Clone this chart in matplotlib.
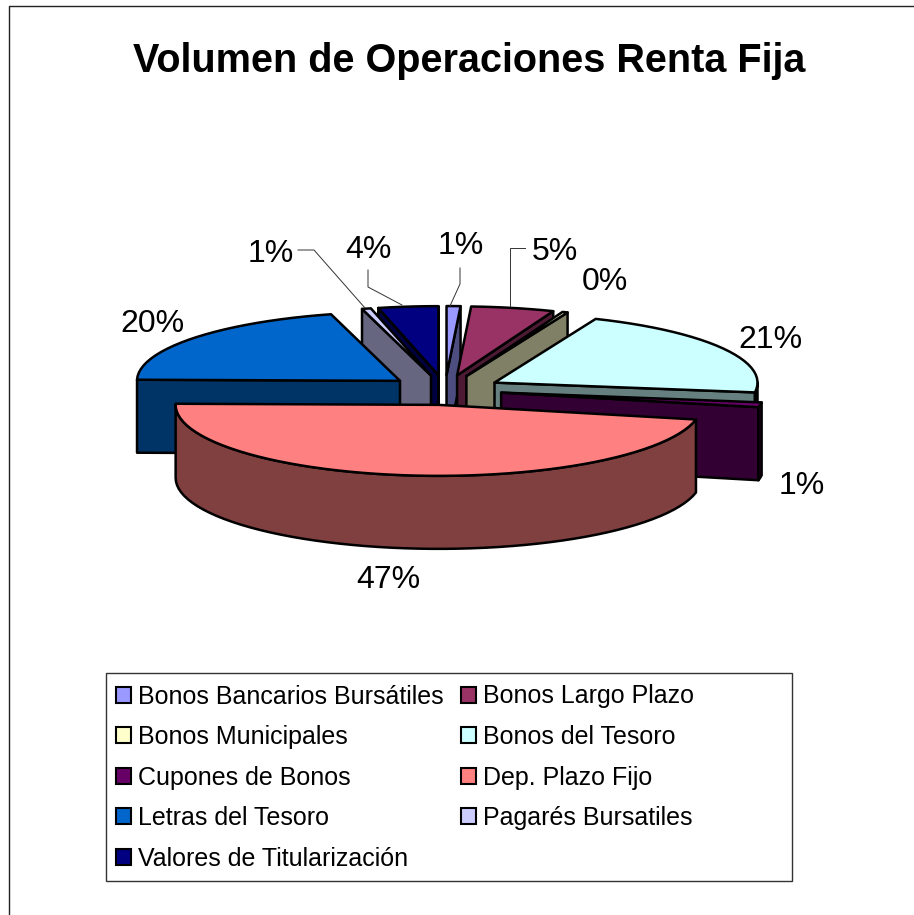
import numpy as np
import matplotlib
matplotlib.use("Agg")
import matplotlib.pyplot as plt
from matplotlib.patches import Patch, Polygon, Rectangle

plt.rcParams["font.family"] = ["Liberation Sans", "DejaVu Sans"]

# data (share of total, %)
categories = ["Bonos Bancarios Bursátiles", "Bonos Largo Plazo", "Bonos Municipales",
              "Bonos del Tesoro", "Cupones de Bonos", "Dep. Plazo Fijo",
              "Letras del Tesoro", "Pagarés Bursatiles", "Valores de Titularización"]
values = [0.85, 5.1, 0.33, 20.9, 1.1, 46.9, 20.5, 0.55, 3.67]
pct_labels = ["1%", "5%", "0%", "21%", "1%", "47%", "20%", "1%", "4%"]
colors = ["#9999FF", "#993366", "#FFFFCC", "#CCFFFF", "#660066",
          "#FF8080", "#0066CC", "#CCCCFF", "#000080"]

# layout, all in image pixels
CX, CY = 445, 390
RX, RY = 263, 69
RY_FRONT = 71  # near half of the ellipse looks a bit deeper
EXPLODE = 57
DEPTH = 73
label_xy = [(461, 246.5), (555, 251.5), (605, 281.5), (770, 340.5), (802, 485.5),
            (388, 580.5), (152, 323.5), (271, 253.5), (368, 249.5)]
leaders = [[(460, 268), (460, 284), (450, 306)],
           [(525, 248), (510, 248), (510, 306)],
           None, None, None, None, None,
           [(298, 250), (314, 250), (365, 308)],
           [(368, 270), (368, 287), (402, 305)]]


def shade(hex_color):
    return tuple(c / 2 for c in matplotlib.colors.to_rgb(hex_color))


def arc_pts(x0, y0, a1, a2, dy=0.0):
    # angles in degrees, clockwise from 12 o'clock
    n = max(2, int(abs(a2 - a1) / 3) + 2)
    t = np.radians(np.linspace(a1, a2, n))
    ry = np.where(np.cos(t) < 0, RY_FRONT, RY)
    return np.column_stack([x0 + RX * np.sin(t), y0 - ry * np.cos(t) + dy])


fig = plt.figure(figsize=(9.14, 9.15), dpi=100)
ax = fig.add_axes([0, 0, 1, 1])
ax.set_xlim(0, 914)
ax.set_ylim(915, 0)
ax.axis("off")

# outer chart frame, cropped at the right and bottom of the picture
ax.plot([9, 9, 914], [915, 6, 6], color="#222222", lw=1.0, zorder=1)

edges = np.cumsum([0] + values) * 360.0 / sum(values)
starts, ends = edges[:-1], edges[1:]
mids = np.radians((starts + ends) / 2)
apex_x = CX + EXPLODE * np.sin(mids)
apex_y = CY - EXPLODE * RY / RX * np.cos(mids)

# painter's order, back slices first
for i in np.argsort(apex_y):
    x0, y0, a1, a2 = apex_x[i], apex_y[i], starts[i], ends[i]
    top = colors[i]
    side = shade(top)
    style = dict(edgecolor="black", lw=1.8, joinstyle="round", zorder=2)

    # cut faces
    for a, show in ((a1, np.sin(np.radians(a1)) < 0), (a2, np.sin(np.radians(a2)) > 0)):
        if show:
            rim = arc_pts(x0, y0, a, a)[0]
            ax.add_patch(Polygon([(x0, y0), rim, rim + (0, DEPTH), (x0, y0 + DEPTH)],
                                 facecolor=side, **style))
    # outer wall, only the part facing the viewer
    w1, w2 = max(a1, 90), min(a2, 270)
    if w2 > w1:
        upper = arc_pts(x0, y0, w1, w2)
        lower = arc_pts(x0, y0, w2, w1, DEPTH)
        ax.add_patch(Polygon(np.vstack([upper, lower]), facecolor=side, **style))
    # top face
    ax.add_patch(Polygon(np.vstack([[(x0, y0)], arc_pts(x0, y0, a1, a2)]),
                         facecolor=top, **style))

for lab, (x, y) in zip(pct_labels, label_xy):
    ax.text(x, y, lab, fontsize=23, ha="center", va="center", color="black", zorder=5)
for line in leaders:
    if line:
        ax.plot(*zip(*line), color="#333333", lw=0.7, zorder=4)

ax.text(469.5, 61.5, "Volumen de Operaciones Renta Fija", fontsize=28.5, fontweight="bold",
        ha="center", va="center", color="black")

# legend frame is wider than its entries, so it is drawn on its own
ax.add_patch(Rectangle((106, 673), 686, 208, facecolor="white", edgecolor="#333333",
                       lw=1.0, zorder=3))
handles = [Patch(facecolor=c, edgecolor="black", lw=1.5) for c in colors]
# matplotlib fills column by column, the chart reads row by row
order = [0, 2, 4, 6, 8, 1, 3, 5, 7]
leg = ax.legend([handles[i] for i in order], [categories[i] for i in order],
                ncols=2, loc="upper left", bbox_to_anchor=(116 / 914, 1 - 684.5 / 915),
                bbox_transform=fig.transFigure, fontsize=18, frameon=False,
                borderaxespad=0, borderpad=0,
                handlelength=0.6, handleheight=0.6, handletextpad=0.28,
                labelspacing=0.66, columnspacing=0.68)
leg.set_zorder(4)

fig.savefig("out.png", dpi=100)
